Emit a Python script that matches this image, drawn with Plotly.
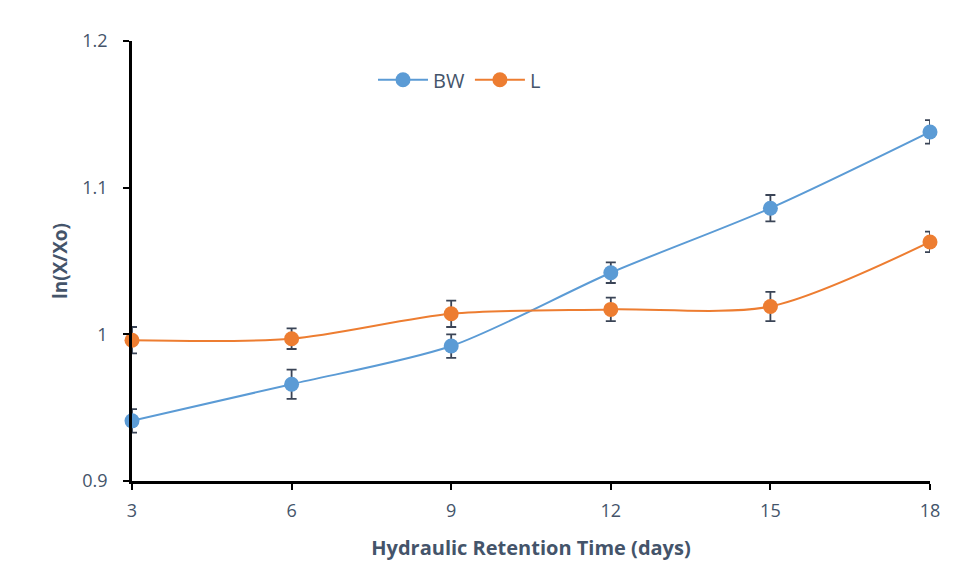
import plotly.graph_objects as go

hrt = [3, 6, 9, 12, 15, 18]
bw = [0.941, 0.966, 0.992, 1.042, 1.086, 1.138]
bw_err = [0.008, 0.010, 0.008, 0.007, 0.009, 0.008]
l_vals = [0.996, 0.997, 1.014, 1.017, 1.019, 1.063]
l_err = [0.009, 0.007, 0.009, 0.008, 0.010, 0.007]
y_ticks = [0.9, 1.0, 1.1, 1.2]
y_labels = ["0.9", "1", "1.1", "1.2"]
x_ticks = [3, 6, 9, 12, 15, 18]

font_family = "Open Sans, Liberation Sans, sans-serif"
txt_color = "#44546A"
err_color = "#3A4456"

fig = go.Figure()
fig.add_trace(go.Scatter(
    x=hrt, y=bw, name="BW", mode="lines+markers",
    line=dict(color="#5B9BD5", width=2, shape="spline", smoothing=0.8),
    marker=dict(size=15, color="#5B9BD5"),
    error_y=dict(type="data", array=bw_err, visible=True, color=err_color, thickness=1.8, width=5),
    cliponaxis=False,
))
fig.add_trace(go.Scatter(
    x=hrt, y=l_vals, name="L", mode="lines+markers",
    line=dict(color="#ED7D31", width=2, shape="spline", smoothing=0.8),
    marker=dict(size=15, color="#ED7D31"),
    error_y=dict(type="data", array=l_err, visible=True, color=err_color, thickness=1.8, width=5),
    cliponaxis=False,
))

fig.update_layout(
    width=958, height=578,
    margin=dict(l=124, r=36, t=33, b=105),
    paper_bgcolor="white", plot_bgcolor="white",
    font=dict(family=font_family, color=txt_color, size=18),
    showlegend=True,
    legend=dict(orientation="h", x=0.302, y=0.912, xanchor="left", yanchor="middle",
                itemwidth=50,
                font=dict(size=20, color=txt_color), bgcolor="rgba(0,0,0,0)"),
    xaxis=dict(
        range=[3, 18], tickvals=x_ticks, showgrid=False, zeroline=False,
        showline=True, linecolor="black", linewidth=2.5,
        ticks="outside", ticklen=6, tickwidth=2, tickcolor="black",
        ticklabelstandoff=6,
        tickfont=dict(size=18, color=txt_color),
        title=dict(text="<b>Hydraulic Retention Time (days)</b>", font=dict(size=20, color=txt_color), standoff=20),
    ),
    yaxis=dict(
        range=[0.9, 1.2], tickvals=y_ticks, ticktext=y_labels, showgrid=False, zeroline=False,
        showline=True, linecolor="black", linewidth=2.5,
        ticks="outside", ticklen=6, tickwidth=2, tickcolor="black",
        ticklabelstandoff=12,
        tickfont=dict(size=18, color=txt_color),
        title=dict(text="<b>ln(X/Xo)</b>", font=dict(size=19, color=txt_color), standoff=10),
    ),
)

fig.write_html("out.html")
